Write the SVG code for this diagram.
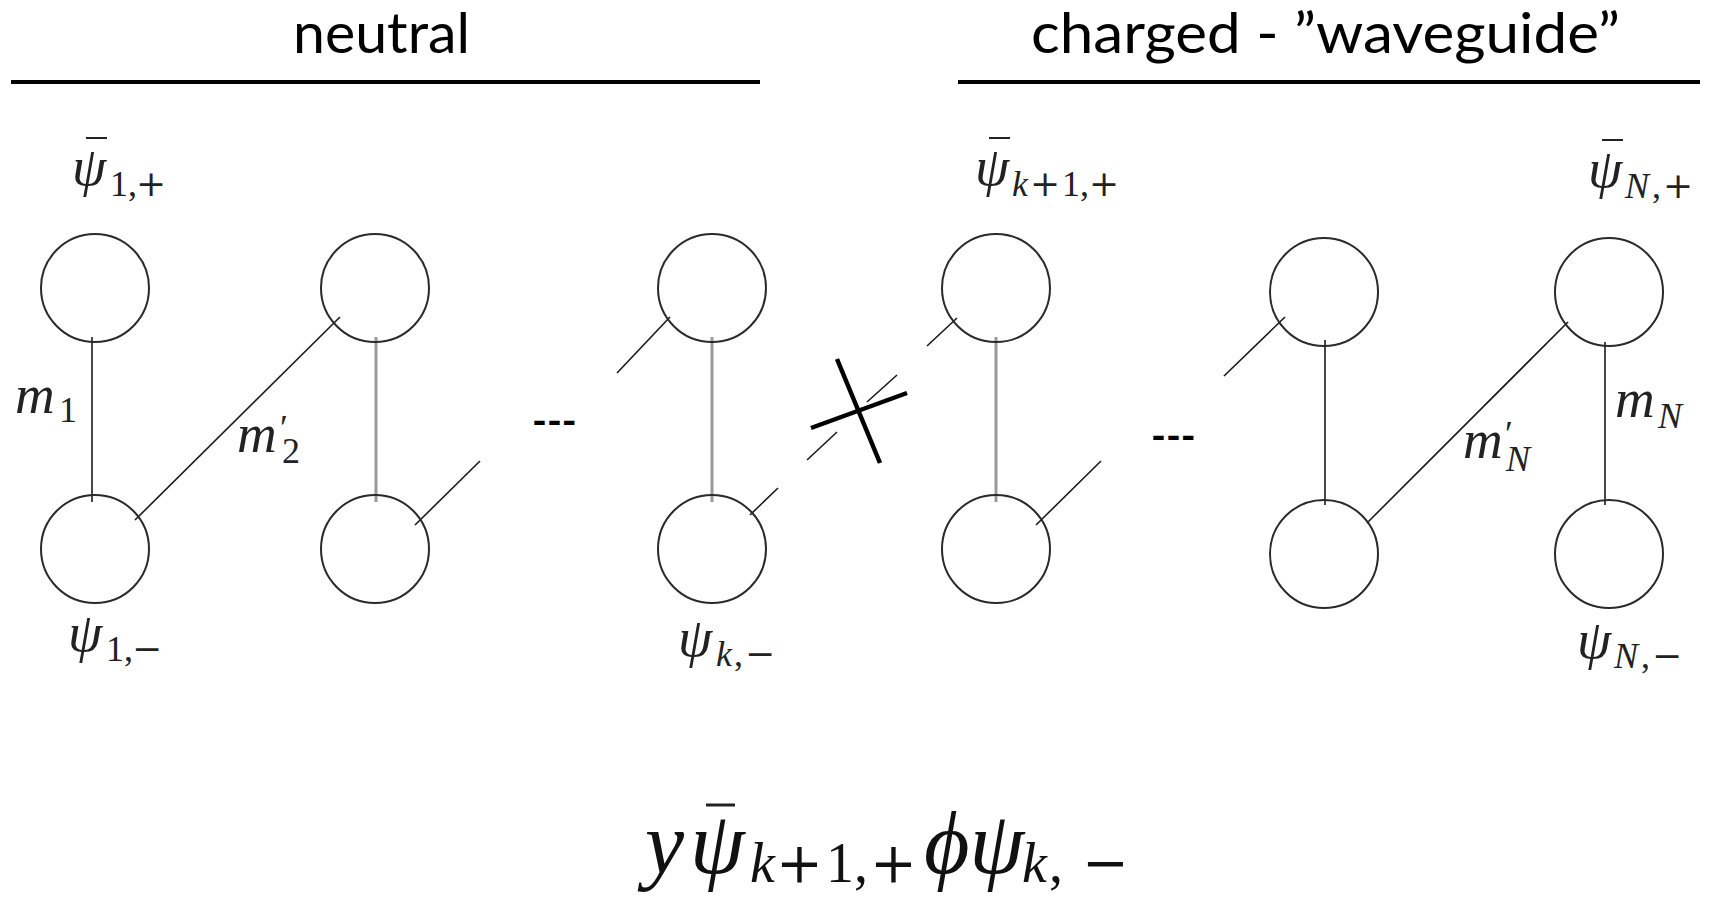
<svg xmlns="http://www.w3.org/2000/svg" width="1713" height="897" viewBox="0 0 1713 897">
<style>
.title{font-family:Lato,"Liberation Sans",sans-serif;font-size:56px;fill:#000}
.rule{stroke:#000;stroke-width:4}
.node{fill:none;stroke:#2a2a2a;stroke-width:2}
.edge{stroke:#1a1a1a;stroke-width:1.6;fill:none}
.gray{stroke:#999;stroke-width:3;fill:none}
.cross{stroke:#000;stroke-width:4.5}
.dots{font-family:Lato,"Liberation Sans",sans-serif;font-weight:bold;font-size:40px;fill:#000}
.m{font-family:"Liberation Serif",serif;font-style:italic;font-size:55px;fill:#222}
.s{font-size:36px}
.up{font-style:normal}
.op{font-family:"DejaVu Serif","Liberation Serif",serif;font-style:normal}
.bar{stroke:#222;stroke-width:2}
.f{font-family:"Liberation Serif",serif;font-style:italic;font-size:88px;fill:#111}
.fs{font-size:56px}
</style>
<rect width="1713" height="897" fill="#fff"/>

<g id="headers">
<text class="title" x="293" y="53" textLength="177" lengthAdjust="spacingAndGlyphs">neutral</text>
<line class="rule" x1="11" y1="82" x2="760" y2="82"/>
<text class="title" x="1031" y="53" textLength="589" lengthAdjust="spacingAndGlyphs">charged - ”waveguide”</text>
<line class="rule" x1="958" y1="82" x2="1700" y2="82"/>
</g>

<g id="connectors">
<line class="edge" x1="92" y1="337" x2="92" y2="502"/>
<line class="edge" x1="135" y1="520" x2="340" y2="317"/>
<line class="gray" x1="376" y1="337" x2="376" y2="502"/>
<line class="edge" x1="415" y1="525" x2="480" y2="461"/>
<line class="edge" x1="617" y1="373" x2="670" y2="317"/>
<line class="gray" x1="712" y1="337" x2="712" y2="502"/>
<line class="edge" x1="750" y1="515" x2="778" y2="488"/>
<line class="edge" x1="807" y1="460" x2="837" y2="432"/>
<line class="edge" x1="867" y1="402" x2="897" y2="375"/>
<line class="edge" x1="927" y1="346" x2="957" y2="318"/>
<line class="gray" x1="996" y1="337" x2="996" y2="502"/>
<line class="edge" x1="1036" y1="525" x2="1101" y2="461"/>
<line class="edge" x1="1224" y1="376" x2="1285" y2="317"/>
<line class="edge" x1="1325" y1="340" x2="1325" y2="505"/>
<line class="edge" x1="1367" y1="523" x2="1568" y2="322"/>
<line class="edge" x1="1605" y1="342" x2="1605" y2="505"/>
<line class="cross" x1="811" y1="428" x2="907" y2="393"/>
<line class="cross" x1="837" y1="359" x2="880" y2="463"/>
<text class="dots" x="532" y="435">---</text>
<text class="dots" x="1151" y="450">---</text>
</g>

<g id="edge-labels">
<text class="m" x="15" y="413">m<tspan class="s up" x="59" y="422">1</tspan></text>
<text class="m" x="237" y="452">m<tspan class="s up" x="280" y="440">′</tspan><tspan class="s up" x="282" y="463">2</tspan></text>
<text class="m" x="1463" y="458">m<tspan class="s up" x="1505" y="446">′</tspan><tspan class="s" x="1506" y="471">N</tspan></text>
<text class="m" x="1615" y="417">m<tspan class="s" x="1658" y="428">N</tspan></text>
</g>

<g id="node-1-plus">
<circle class="node" cx="95" cy="288" r="54"/>
<line class="bar" x1="86" y1="138" x2="107" y2="138"/>
<text class="m" x="72" y="185">ψ<tspan class="s up" x="110" y="196">1,</tspan><tspan class="s op" x="136" y="196">+</tspan></text>
</g>
<g id="node-1-minus">
<circle class="node" cx="95" cy="549" r="54"/>
<text class="m" x="68" y="651">ψ<tspan class="s up" x="106" y="661">1,</tspan><tspan class="s op" x="132" y="661">−</tspan></text>
</g>
<g id="node-2-plus"><circle class="node" cx="375" cy="288" r="54"/></g>
<g id="node-2-minus"><circle class="node" cx="375" cy="549" r="54"/></g>
<g id="node-k-plus"><circle class="node" cx="712" cy="288" r="54"/></g>
<g id="node-k-minus">
<circle class="node" cx="712" cy="549" r="54"/>
<text class="m" x="678" y="656">ψ<tspan class="s" x="716" y="666">k</tspan><tspan class="s up" x="734" y="666">,</tspan><tspan class="s op" x="745" y="666">−</tspan></text>
</g>
<g id="node-k1-plus">
<circle class="node" cx="996" cy="288" r="54"/>
<line class="bar" x1="989" y1="138" x2="1010" y2="138"/>
<text class="m" x="975" y="185">ψ<tspan class="s" x="1012" y="196">k</tspan><tspan class="s op" x="1030" y="196">+</tspan><tspan class="s up" x="1062" y="196">1,</tspan><tspan class="s op" x="1089" y="196">+</tspan></text>
</g>
<g id="node-k1-minus"><circle class="node" cx="996" cy="549" r="54"/></g>
<g id="node-n1-plus"><circle class="node" cx="1324" cy="292" r="54"/></g>
<g id="node-n1-minus"><circle class="node" cx="1324" cy="554" r="54"/></g>
<g id="node-N-plus">
<circle class="node" cx="1609" cy="292" r="54"/>
<line class="bar" x1="1602" y1="140" x2="1623" y2="140"/>
<text class="m" x="1588" y="187">ψ<tspan class="s" x="1625" y="198">N</tspan><tspan class="s up" x="1652" y="198">,</tspan><tspan class="s op" x="1663" y="198">+</tspan></text>
</g>
<g id="node-N-minus">
<circle class="node" cx="1609" cy="554" r="54"/>
<text class="m" x="1577" y="658">ψ<tspan class="s" x="1614" y="668">N</tspan><tspan class="s up" x="1641" y="668">,</tspan><tspan class="s op" x="1652" y="668">−</tspan></text>
</g>

<g id="formula">
<line class="bar" x1="706" y1="805" x2="735" y2="805" style="stroke-width:3"/>
<text class="f" x="645" y="873">y<tspan x="690">ψ</tspan><tspan class="fs" x="750" y="882">k</tspan><tspan class="fs op" x="776" y="882">+</tspan><tspan class="fs up" x="826" y="882">1,</tspan><tspan class="fs op" x="870" y="882">+</tspan><tspan x="924" y="873">ϕψ</tspan><tspan class="fs" x="1022" y="882">k</tspan><tspan class="fs up" x="1049" y="882">,</tspan><tspan class="fs op" x="1082" y="882">−</tspan></text>
</g>
</svg>
